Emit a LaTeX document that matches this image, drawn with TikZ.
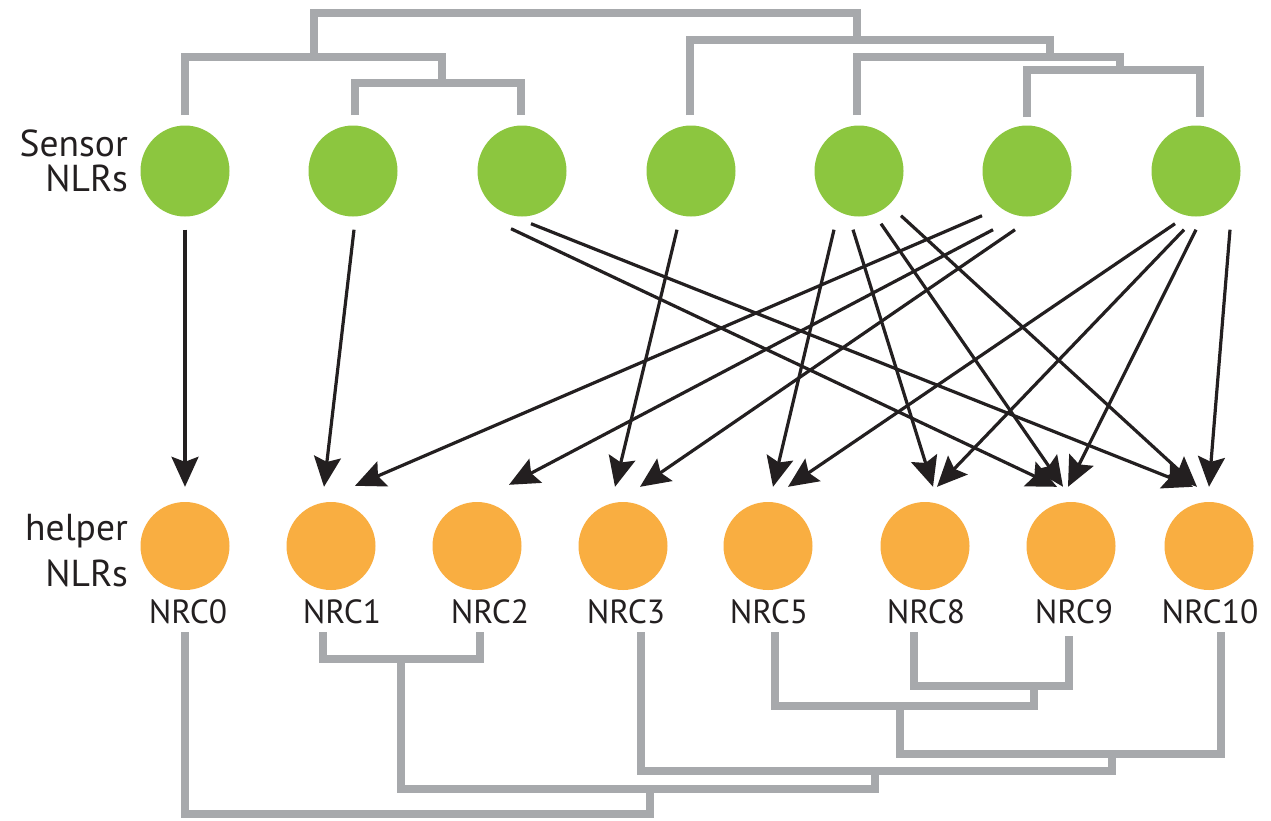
\documentclass[tikz,border=0pt]{standalone}
\usepackage{fontspec}
\setmainfont{PT Sans}
\usetikzlibrary{arrows.meta,shapes.geometric}
\definecolor{sgreen}{HTML}{8CC63F}
\definecolor{horange}{HTML}{F9AE41}
\definecolor{tgrey}{HTML}{A7A9AC}
\definecolor{ink}{HTML}{231F20}
\newcommand{\arrw}[6]{\draw[arr] ([xshift=#2pt,yshift=#3pt]#1.south) -- ([xshift=#5pt,yshift=#6pt]#4.north);}
\begin{document}
\begin{tikzpicture}[x=1pt,y=-1pt,
  sensor/.style={ellipse,fill=sgreen,minimum width=89pt,minimum height=91pt,inner sep=0pt},
  helper/.style={ellipse,fill=horange,minimum width=89pt,minimum height=88pt,inner sep=0pt},
  lbl/.style={anchor=base,inner sep=0pt,text=ink,font=\fontsize{33.5}{36}\selectfont},
  rowlbl/.style={anchor=north east,inner sep=0pt,align=right,text=ink},
  arr/.style={draw=ink,line width=3.2pt,-{Stealth[length=30pt,width=27pt,inset=5pt]}},
  tree/.style={draw=tgrey,line width=8.5pt,line join=miter,line cap=butt}]
\useasboundingbox[fill=white] (0,0) rectangle (1271,820);

% row labels
\node[rowlbl,font=\fontsize{37.5}{35}\selectfont] (senslbl) at (128,130) {Sensor\\NLRs};
\node[rowlbl,font=\fontsize{37.5}{46}\selectfont] (helplbl) at (128,514) {helper\\NLRs};

% sensor NLRs
\node[sensor] (s1) at (185,171) {};
\node[sensor] (s2) at (353,171) {};
\node[sensor] (s3) at (522,171) {};
\node[sensor] (s4) at (691,171) {};
\node[sensor] (s5) at (859,171) {};
\node[sensor] (s6) at (1027,171) {};
\node[sensor] (s7) at (1196,171) {};

% helper NLRs
\node[helper] (h0) at (185,546) {};
\node[helper] (h1) at (331,546) {};
\node[helper] (h2) at (477,546) {};
\node[helper] (h3) at (623,546) {};
\node[helper] (h5) at (768,546) {};
\node[helper] (h8) at (925,546) {};
\node[helper] (h9) at (1071,546) {};
\node[helper] (h10) at (1209,546) {};

% helper labels
\node[lbl] (l0) at (188,623) {NRC0};
\node[lbl] (l1) at (342,623) {NRC1};
\node[lbl] (l2) at (490,623) {NRC2};
\node[lbl] (l3) at (626,623) {NRC3};
\node[lbl] (l5) at (769,623) {NRC5};
\node[lbl] (l8) at (926,623) {NRC8};
\node[lbl] (l9) at (1074,623) {NRC9};
\node[lbl] (l10) at (1210,623) {NRC10};

% top dendrogram (sensors)
\draw[tree] (355,115) |- (521,83) -- (521,115);
\draw[tree] (185,115) |- (442,57) -- (442,83);
\draw[tree] (314,57) |- (857,13) -- (857,40);
\draw[tree] (690,115) |- (1050,40) -- (1050,57);
\draw[tree] (857,115) |- (1120,57) -- (1120,70);
\draw[tree] (1027,117) |- (1200,70) -- (1200,117);

% bottom dendrogram (helpers)
\draw[tree] (323,632) |- (480,659) -- (480,632);
\draw[tree] (914,632) |- (1069,686) -- (1069,636);
\draw[tree] (775,632) |- (1034,706) -- (1034,686);
\draw[tree] (1221,632) |- (900,754) -- (900,706);
\draw[tree] (641,632) |- (1112,771) -- (1112,754);
\draw[tree] (401,659) |- (875,789) -- (875,771);
\draw[tree] (185,632) |- (650,814) -- (650,789);

% sensor -> helper arrows
\arrw{s1}{0}{-13}{h0}{0}{15}
\arrw{s2}{1}{-13}{h1}{-7}{15}
\arrw{s3}{-11}{-12}{h9}{-14}{15}
\arrw{s3}{9}{-7}{h10}{-16}{15}
\arrw{s4}{-14}{-13}{h3}{-8}{15}
\arrw{s5}{-25}{-13}{h5}{5}{15}
\arrw{s5}{-6}{-13}{h8}{8}{15}
\arrw{s5}{22}{-7}{h9}{-8}{15}
\arrw{s5}{42}{1}{h10}{-12}{15}
\arrw{s6}{-45}{1}{h1}{24}{16}
\arrw{s6}{-34}{-13}{h2}{32}{17}
\arrw{s6}{-12}{-13}{h3}{17}{15}
\arrw{s7}{-21}{-7}{h5}{20}{15}
\arrw{s7}{-12}{-13}{h8}{12}{15}
\arrw{s7}{0}{-13}{h9}{-3}{15}
\arrw{s7}{34}{-13}{h10}{0}{15}
\end{tikzpicture}
\end{document}
